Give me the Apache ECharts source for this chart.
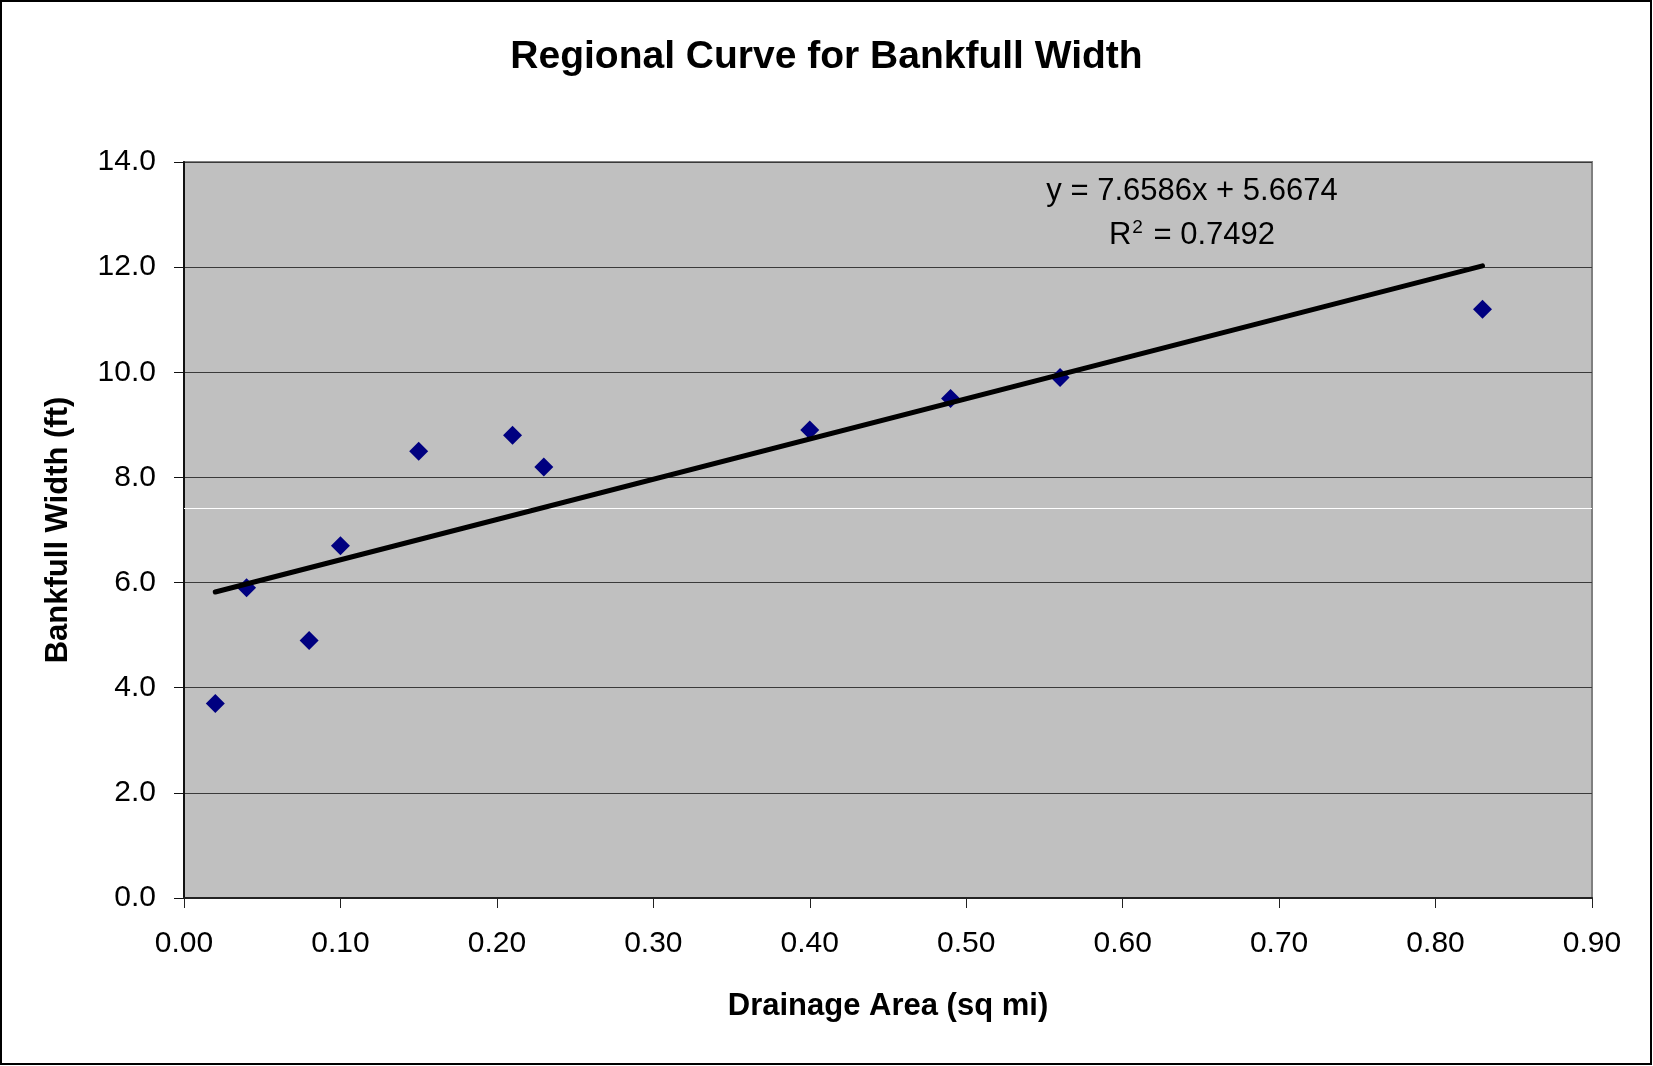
<!DOCTYPE html>
<html>
<head>
<meta charset="utf-8">
<script src="https://cdn.jsdelivr.net/npm/echarts@6/dist/echarts.min.js"></script>
<style>
  html, body { margin: 0; padding: 0; background: #fff; }
  #chart { width: 1653px; height: 1066px; }
</style>
</head>
<body>
<div id="chart"></div>
<script>
// drainage area (sq mi) and bankfull width (ft)
const drainageArea = [0.02, 0.04, 0.08, 0.10, 0.15, 0.21, 0.23, 0.40, 0.49, 0.56, 0.83];
const bankfullWidth = [3.7, 5.9, 4.9, 6.7, 8.5, 8.8, 8.2, 8.9, 9.5, 9.9, 11.2];

// linear trendline as printed on the chart
const slope = 7.6586;
const intercept = 5.6674;
const trendRange = [0.02, 0.83];

// thin white line that shows through the plot area in the original
const whiteLineAt = 7.42;

const FONT = '"Liberation Sans", Arial, sans-serif';

const chart = echarts.init(document.getElementById('chart'));

chart.setOption({
  backgroundColor: '#fff',
  animation: false,
  title: {
    text: 'Regional Curve for Bankfull Width',
    left: 'center',
    top: 33,
    textStyle: { fontFamily: FONT, fontSize: 39, fontWeight: 'bold', color: '#000' }
  },
  grid: {
    left: 184,
    right: 61,
    top: 162,
    bottom: 168,
    show: true,
    backgroundColor: '#C0C0C0',
    borderColor: '#808080',
    borderWidth: 2
  },
  xAxis: {
    type: 'value',
    min: 0,
    max: 0.9,
    interval: 0.1,
    name: 'Drainage Area (sq mi)',
    nameLocation: 'middle',
    nameGap: 93,
    nameTextStyle: { fontFamily: FONT, fontSize: 31, fontWeight: 'bold', color: '#000' },
    axisLine: { show: true, onZero: false, lineStyle: { color: '#222', width: 2 } },
    axisTick: { show: true, inside: false, length: 10, lineStyle: { color: '#222', width: 1 } },
    axisLabel: {
      fontFamily: FONT, fontSize: 30, color: '#000', margin: 31,
      formatter: v => v.toFixed(2)
    },
    splitLine: { show: false }
  },
  yAxis: {
    type: 'value',
    min: 0,
    max: 14,
    interval: 2,
    name: 'Bankfull Width (ft)',
    nameLocation: 'middle',
    nameGap: 110,
    nameTextStyle: { fontFamily: FONT, fontSize: 31, fontWeight: 'bold', color: '#000' },
    axisLine: { show: true, onZero: false, lineStyle: { color: '#111', width: 2 } },
    axisTick: { show: true, inside: false, length: 10, lineStyle: { color: '#111', width: 1 } },
    axisLabel: {
      fontFamily: FONT, fontSize: 30, color: '#000', margin: 28,
      formatter: v => v.toFixed(1)
    },
    splitLine: { show: true, lineStyle: { color: '#3a3a3a', width: 1 } }
  },
  series: [
    {
      type: 'scatter',
      symbol: 'diamond',
      symbolSize: 19,
      itemStyle: { color: '#000080', opacity: 1 },
      data: drainageArea.map((x, i) => [x, bankfullWidth[i]]),
      z: 3,
      markLine: {
        silent: true,
        symbol: ['none', 'none'],
        label: { show: false },
        lineStyle: { color: '#ffffff', width: 1, type: 'solid' },
        data: [{ yAxis: whiteLineAt }],
        z: 1
      }
    },
    {
      type: 'line',
      data: trendRange.map(x => [x, slope * x + intercept]),
      showSymbol: false,
      lineStyle: { color: '#000', width: 5, cap: 'round' },
      z: 4
    }
  ],
  graphic: [
    {
      type: 'text',
      x: 1192,
      y: 191,
      style: {
        text: 'y = 7.6586x + 5.6674',
        textAlign: 'center',
        textVerticalAlign: 'middle',
        fontFamily: FONT,
        fontSize: 31,
        fill: '#000'
      },
      z: 10
    },
    {
      type: 'text',
      x: 1192,
      y: 235,
      style: {
        text: '{b|R}{s|2}{b| = 0.7492}',
        textAlign: 'center',
        textVerticalAlign: 'middle',
        fontFamily: FONT,
        fontSize: 31,
        fill: '#000',
        rich: {
          b: { fontFamily: FONT, fontSize: 31, color: '#000' },
          s: { fontFamily: FONT, fontSize: 19, color: '#000', padding: [0, 2, 14, 1] }
        }
      },
      z: 10
    },
    {
      type: 'rect',
      shape: { x: 1, y: 1, width: 1650, height: 1063 },
      style: { fill: 'none', stroke: '#000', lineWidth: 2 },
      silent: true,
      z: 10
    }
  ]
});
</script>
</body>
</html>
